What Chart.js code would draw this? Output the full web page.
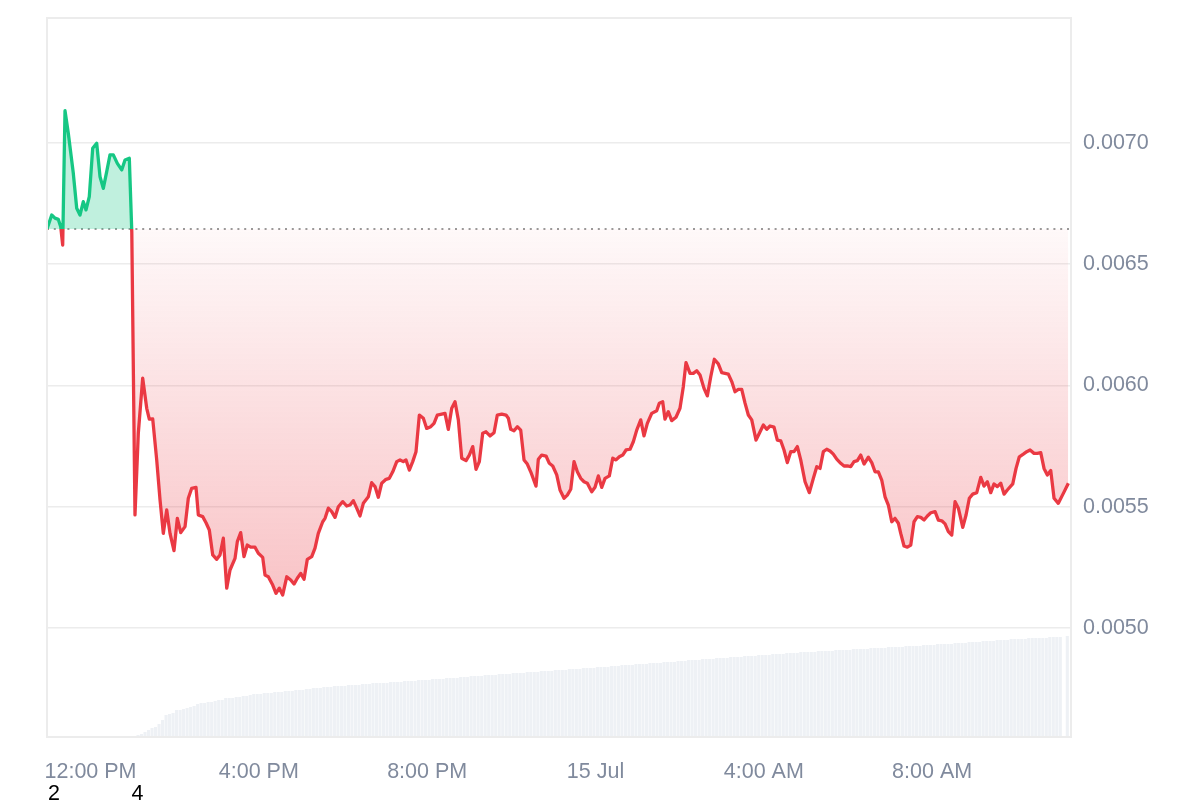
<!DOCTYPE html>
<html>
<head>
<meta charset="utf-8">
<script src="https://cdn.jsdelivr.net/npm/chart.js@4.4.1/dist/chart.umd.min.js"></script>
<style>
  html, body { margin: 0; padding: 0; background: #ffffff; }
  #wrap { width: 1200px; height: 800px; position: relative; }
</style>
</head>
<body>
<div id="wrap"><canvas id="c" width="1200" height="800"></canvas></div>
<script>
// time in hours relative to 12:00 PM, 14 Jul
const times = [
-1.034,-0.922,-0.844,-0.765,-0.708,-0.661,-0.606,-0.528,-0.409,-0.328,-0.250,-0.171,-0.107,-0.029,0.052,0.147,0.226,0.304,0.385,0.463,0.542,0.637,0.741,0.820,0.922,0.981,
1.057,1.136,1.240,1.336,1.397,1.478,1.573,1.652,1.730,1.811,1.889,1.984,2.063,2.144,2.246,2.324,2.405,2.507,2.562,2.666,2.745,2.823,2.904,2.999,
3.077,3.156,3.237,3.315,3.434,3.489,3.569,3.648,3.726,3.807,3.909,3.988,4.092,4.147,4.225,4.330,4.408,4.487,4.567,4.663,4.758,4.836,4.914,4.995,
5.074,5.152,5.257,5.335,5.413,5.518,5.573,5.651,5.732,5.810,5.889,5.993,6.088,6.167,6.245,6.326,6.404,6.483,6.602,6.682,6.761,6.839,6.920,
7.022,7.101,7.182,7.277,7.355,7.433,7.497,7.576,7.657,7.735,7.814,7.909,7.989,8.085,8.163,8.241,8.346,8.424,8.503,8.584,8.662,8.741,8.821,8.924,
9.002,9.083,9.161,9.240,9.320,9.399,9.494,9.589,9.667,9.772,9.874,9.929,9.986,10.064,10.143,10.223,10.302,10.380,10.461,10.587,10.642,10.722,10.825,10.903,10.984,
11.079,11.157,11.252,11.331,11.412,11.490,11.569,11.649,11.728,11.806,11.911,11.989,12.068,12.148,12.227,12.329,12.410,12.488,12.567,12.647,12.726,12.821,12.899,12.980,
13.075,13.153,13.232,13.336,13.455,13.516,13.597,13.652,13.730,13.811,13.913,14.008,14.087,14.151,14.246,14.325,14.406,14.484,14.579,14.658,14.739,14.824,14.919,
15.000,15.078,15.157,15.238,15.316,15.395,15.475,15.554,15.632,15.713,15.815,15.894,15.989,16.069,16.148,16.243,16.321,16.402,16.480,16.559,16.640,16.718,16.797,16.877,16.980,
17.082,17.177,17.258,17.336,17.415,17.495,17.574,17.652,17.733,17.828,17.906,17.985,18.066,18.144,18.223,18.303,18.382,18.484,18.565,18.643,18.722,18.802,18.881,18.959,
19.040,19.118,19.197,19.254,19.332,19.411,19.492,19.570,19.649,19.730,19.808,19.887,19.968,20.070,20.148,20.229,20.307,20.386,20.466,20.545,20.623,20.728,20.806,20.884,20.965,
21.060,21.155,21.234,21.312,21.393,21.471,21.550,21.631,21.709,21.787,21.916,21.994,22.072,22.167,22.248,22.327,22.422,22.500,22.581,22.659,22.738,22.819,22.897,22.999,23.118,23.237
];
const prices = [
0.006645,0.006703,0.006690,0.006685,0.006655,0.006579,0.007133,0.007040,0.006875,0.006731,0.006703,0.006758,0.006724,0.006779,0.006978,0.006999,0.006861,0.006813,0.006882,0.006951,0.006951,0.006916,0.006889,0.006930,0.006937,0.006633,
0.005466,0.005803,0.006030,0.005906,0.005861,0.005862,0.005693,0.005528,0.005390,0.005487,0.005390,0.005319,0.005452,0.005393,0.005418,0.005535,0.005576,0.005580,0.005466,0.005459,0.005434,0.005404,0.005301,0.005283,
0.005301,0.005370,0.005164,0.005239,0.005287,0.005356,0.005393,0.005294,0.005342,0.005333,0.005333,0.005308,0.005291,0.005218,0.005211,0.005177,0.005143,0.005164,0.005136,0.005211,0.005198,0.005181,0.005205,0.005225,
0.005201,0.005283,0.005294,0.005329,0.005390,0.005438,0.005452,0.005494,0.005480,0.005456,0.005500,0.005521,0.005503,0.005507,0.005525,0.005494,0.005462,0.005514,0.005541,0.005599,0.005583,0.005539,0.005597,
0.005613,0.005617,0.005644,0.005686,0.005693,0.005686,0.005693,0.005651,0.005686,0.005727,0.005878,0.005865,0.005823,0.005830,0.005844,0.005878,0.005882,0.005885,0.005819,0.005906,0.005933,0.005858,0.005700,0.005690,
0.005713,0.005748,0.005654,0.005686,0.005803,0.005809,0.005792,0.005805,0.005878,0.005882,0.005878,0.005865,0.005819,0.005813,0.005830,0.005816,0.005693,0.005676,0.005644,0.005585,0.005696,0.005713,0.005709,0.005679,0.005668,
0.005631,0.005569,0.005535,0.005548,0.005572,0.005686,0.005644,0.005617,0.005603,0.005597,0.005562,0.005580,0.005627,0.005580,0.005617,0.005627,0.005700,0.005693,0.005706,0.005713,0.005734,0.005737,0.005768,0.005816,
0.005858,0.005792,0.005844,0.005885,0.005896,0.005927,0.005933,0.005861,0.005892,0.005855,0.005869,0.005906,0.005995,0.006094,0.006050,0.006050,0.006061,0.006043,0.005988,0.005957,0.006036,0.006108,0.006089,
0.006053,0.006050,0.006047,0.006016,0.005974,0.005984,0.005984,0.005927,0.005878,0.005858,0.005775,0.005803,0.005837,0.005819,0.005833,0.005828,0.005775,0.005772,0.005734,0.005682,0.005727,0.005727,0.005748,0.005693,0.005603,
0.005558,0.005617,0.005665,0.005658,0.005727,0.005737,0.005730,0.005717,0.005696,0.005679,0.005668,0.005668,0.005665,0.005686,0.005690,0.005713,0.005676,0.005704,0.005682,0.005644,0.005644,0.005610,0.005541,0.005507,
0.005438,0.005452,0.005432,0.005390,0.005338,0.005333,0.005342,0.005438,0.005459,0.005456,0.005445,0.005462,0.005475,0.005480,0.005445,0.005442,0.005429,0.005397,0.005383,0.005521,0.005494,0.005415,0.005466,0.005535,0.005552,
0.005558,0.005621,0.005585,0.005603,0.005558,0.005594,0.005583,0.005597,0.005552,0.005569,0.005594,0.005658,0.005706,0.005717,0.005727,0.005734,0.005720,0.005720,0.005723,0.005658,0.005631,0.005649,0.005535,0.005514,0.005555,0.005597
];
// volume bars (arbitrary units), one every 5 minutes from volStart
const volStart = 1.129;
const volStepHours = 5 / 60;
const volumes = [
2,3,5,7,9,10,13,17,22,23,24,27,27,28,29,30,31,33,34,34,35,35,36,37,37,39,39,39,40,40,41,41,42,43,
43,43,44,44,44,45,45,45,46,46,46,47,47,47,48,48,49,49,49,50,50,50,51,51,51,51,52,52,52,52,
53,53,53,54,54,54,54,54,55,55,55,55,56,56,56,56,57,57,57,57,58,58,58,58,59,59,59,59,60,60,
60,61,61,61,61,62,62,62,62,63,63,63,63,64,64,64,64,65,65,65,65,66,66,66,66,67,67,67,67,68,
68,68,68,69,69,69,69,70,70,70,70,71,71,71,72,72,72,72,73,73,73,73,74,74,74,74,75,75,75,75,
76,76,76,77,77,77,77,78,78,78,78,79,79,79,79,80,80,80,80,81,81,81,81,82,82,82,82,83,83,83,
83,84,84,84,84,85,85,85,85,85,86,86,86,86,86,87,87,87,87,87,88,88,88,88,88,89,89,89,89,89,
90,90,90,90,90,91,91,91,91,91,92,92,92,92,93,93,93,93,93,94,94,94,94,95,95,95,95,96,96,96,
96,97,97,97,97,98,98,98,98,98,99,99,99,99,99,99,100,100,100,100,0,101
];
const volumeAxisMax = 719;

const xTickValues = [0, 4, 8, 12, 16, 20];
const xTickLabels = ['12:00 PM', '4:00 PM', '8:00 PM', '15 Jul', '4:00 AM', '8:00 AM'];
const yTickValues = [0.0050, 0.0055, 0.0060, 0.0065, 0.0070];
const markerTimes = [-0.867, 1.117];
const markerLabels = ['2', '4'];

const xMin = -1.034, xMax = 23.30;
const yMin = 0.0045503, yMax = 0.0075155;
const baseline = prices[0];

const GREEN = '#16c784';
const RED = '#ea3943';
const FONT = "'Liberation Sans', Arial, Helvetica, sans-serif";
const TICK_COLOR = '#808a9d';
const FONT_SIZE = 21.5;

const linePoints = times.map((t, i) => ({ x: t, y: prices[i] }));
const volPoints = volumes.map((v, i) => ({ x: volStart + i * volStepHours, y: v }));

const framePlugin = {
  id: 'frame',
  beforeDatasetsDraw(chart) {
    const { ctx, chartArea: a, scales } = chart;
    ctx.save();
    const yb = scales.y.getPixelForValue(baseline);
    ctx.strokeStyle = '#9a9a9a';
    ctx.lineWidth = 2;
    ctx.setLineDash([2, 4.8]);
    ctx.beginPath();
    ctx.moveTo(a.left, Math.round(yb));
    ctx.lineTo(a.right, Math.round(yb));
    ctx.stroke();
    ctx.restore();
  },
  afterDraw(chart) {
    const { ctx, chartArea: a, scales } = chart;
    ctx.save();
    ctx.strokeStyle = '#ececec';
    ctx.lineWidth = 2;
    ctx.strokeRect(a.left, a.top, a.right - a.left, a.bottom - a.top);
    ctx.fillStyle = '#000000';
    ctx.font = FONT_SIZE + 'px ' + FONT;
    ctx.textAlign = 'center';
    ctx.textBaseline = 'middle';
    markerTimes.forEach((t, i) => {
      ctx.fillText(markerLabels[i], scales.x.getPixelForValue(t), a.bottom + 57);
    });
    ctx.restore();
  }
};

const chart = new Chart(document.getElementById('c'), {
  data: {
    datasets: [
      {
        type: 'line',
        data: linePoints,
        borderColor: RED,
        borderWidth: 3.3,
        pointRadius: 0,
        tension: 0,
        borderJoinStyle: 'round',
        fill: { target: { value: baseline }, above: 'rgba(22,199,132,0.27)', below: 'rgba(234,57,67,0.1)' },
        yAxisID: 'y',
        order: 1
      },
      {
        type: 'bar',
        data: volPoints,
        backgroundColor: '#eef1f5',
        barPercentage: 0.88,
        categoryPercentage: 1,
        yAxisID: 'vol',
        order: 2
      }
    ]
  },
  options: {
    responsive: false,
    animation: false,
    layout: { padding: { left: 47, top: 18, right: 0, bottom: 0 } },
    plugins: { legend: { display: false }, tooltip: { enabled: false } },
    scales: {
      x: {
        type: 'linear',
        offset: false,
        min: xMin,
        max: xMax,
        grid: { display: false, offset: false },
        border: { display: false },
        afterBuildTicks: s => { s.ticks = xTickValues.map(v => ({ value: v })); },
        afterFit: s => { s.height = 63; s.paddingLeft = 0; s.paddingRight = 0; },
        ticks: {
          autoSkip: false,
          maxRotation: 0,
          padding: 14,
          color: TICK_COLOR,
          font: { family: FONT, size: FONT_SIZE },
          callback: v => { const i = xTickValues.indexOf(v); return i >= 0 ? xTickLabels[i] : ''; }
        }
      },
      y: {
        type: 'linear',
        position: 'right',
        min: yMin,
        max: yMax,
        grid: { color: '#ececec', lineWidth: 1.5, drawTicks: false },
        border: { display: false },
        afterBuildTicks: s => { s.ticks = yTickValues.map(v => ({ value: v })); },
        afterFit: s => { s.width = 129; s.paddingTop = 0; s.paddingBottom = 0; },
        ticks: {
          padding: 12,
          color: TICK_COLOR,
          font: { family: FONT, size: FONT_SIZE },
          callback: v => Number(v).toFixed(4)
        }
      },
      vol: {
        type: 'linear',
        display: false,
        min: 0,
        max: volumeAxisMax
      }
    }
  },
  plugins: [framePlugin]
});

(function applyGradients() {
  const { ctx, chartArea: a, scales } = chart;
  const yb = scales.y.getPixelForValue(baseline);
  const f = Math.min(1, Math.max(0, (yb - a.top) / (a.bottom - a.top)));
  const g = ctx.createLinearGradient(0, a.top, 0, a.bottom);
  g.addColorStop(0, GREEN);
  g.addColorStop(f, GREEN);
  g.addColorStop(f, RED);
  g.addColorStop(1, RED);
  const yLow = scales.y.getPixelForValue(Math.min(...prices));
  const rg = ctx.createLinearGradient(0, yb, 0, yLow);
  rg.addColorStop(0, 'rgba(234,57,67,0.03)');
  rg.addColorStop(1, 'rgba(234,57,67,0.30)');
  const ds = chart.data.datasets[0];
  ds.borderColor = g;
  ds.fill = { target: { value: baseline }, above: 'rgba(22,199,132,0.27)', below: rg };
  chart.update('none');
})();
</script>
</body>
</html>
